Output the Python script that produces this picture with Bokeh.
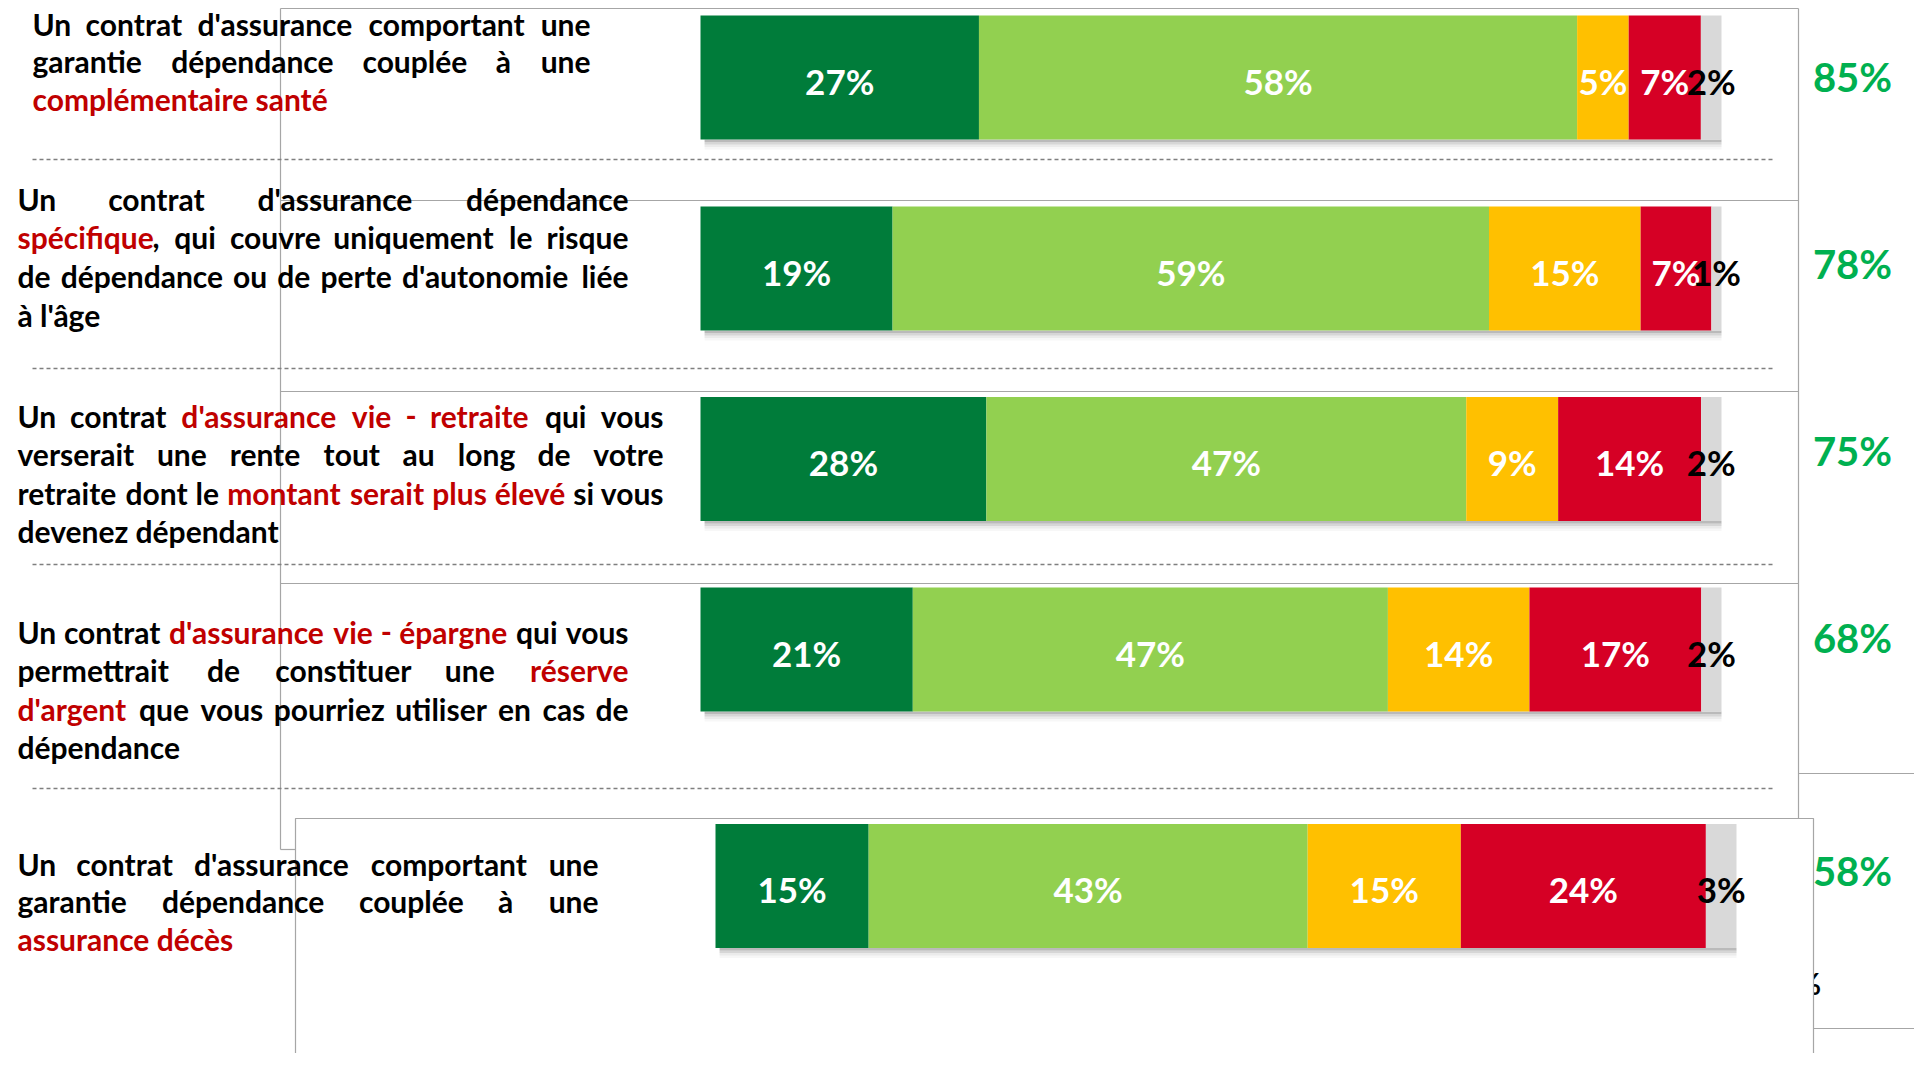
import unicodedata
from bokeh.plotting import figure
from bokeh.models import ColumnDataSource, Range1d
from bokeh.embed import file_html
from bokeh.resources import INLINE
from bokeh.core.properties import value

# ---------------- data ----------------
# Red parts of each label are written between braces.
categories = [
    ["Un contrat d'assurance comportant une",
     "garantie dépendance couplée à une",
     "{complémentaire santé}"],
    ["Un contrat d'assurance dépendance",
     "{spécifique}, qui couvre uniquement le risque",
     "de dépendance ou de perte d'autonomie liée",
     "à l'âge"],
    ["Un contrat {d'assurance vie - retraite} qui vous",
     "verserait une rente tout au long de votre",
     "retraite dont le {montant serait plus élevé} si vous",
     "devenez dépendant"],
    ["Un contrat {d'assurance vie - épargne} qui vous",
     "permettrait de constituer une {réserve}",
     "{d'argent} que vous pourriez utiliser en cas de",
     "dépendance"],
    ["Un contrat d'assurance comportant une",
     "garantie dépendance couplée à une",
     "{assurance décès}"],
]
tres_interesse = [27, 19, 28, 21, 15]
plutot_interesse = [58, 59, 47, 47, 43]
peu_interesse = [5, 15, 9, 14, 15]
pas_interesse = [7, 7, 14, 17, 24]
nsp = [2, 1, 2, 2, 3]
total_interesse = [85, 78, 75, 68, 58]

series = [tres_interesse, plutot_interesse, peu_interesse, pas_interesse, nsp]
series_colors = ["#007C3A", "#92D050", "#FFC000", "#D60025", "#D9D9D9"]
label_colors = ["white", "white", "white", "white", "black"]

# ---------------- layout (reference pixel coordinates) ----------------
X0, X1, Y0, Y1 = 0, 1914, 0, 1053
BAR_W = 1021.0
BAR_H = 124
bar_left = [700, 700, 700, 700, 715]
bar_cy = [77, 268, 458.5, 649, 885.5]
range_names = ["pct", "pct", "pct", "pct", "pct5"]
total_cx = 1852
total_cy = [76, 263, 450, 637, 870]

txt_left = [32, 17, 17, 17, 17]
txt_right = [590, 628, 663, 628, 598]
txt_top = [23, 198, 415, 631, 863]
txt_lh = [37.6, 38.8, 38.6, 38.6, 37.6]
FONT = "Lato"
FS = 30
EM = 31.8   # estimated px per em used for word widths
RED = "#C00000"

p = figure(width=X1 - X0, height=Y1 - Y0,
           x_range=Range1d(X0, X1), y_range=Range1d(Y1, Y0),
           output_backend="svg", toolbar_location=None,
           x_axis_location=None, y_axis_location=None, min_border=0)
p.grid.visible = False
p.outline_line_color = None
p.background_fill_color = "white"
p.border_fill_color = "white"


def pct_range(left):
    return Range1d((X0 - left) / BAR_W * 100, (X1 - left) / BAR_W * 100)


p.extra_x_ranges = {"pct": pct_range(700), "pct5": pct_range(715)}

# ---------------- frame lines of the pasted pictures ----------------
FR = "#A6A6A6"
frame = dict(
    x0=[280, 280, 280, 280, 280, 1798, 280, 1798, 1813],
    y0=[8, 200, 391, 583, 8, 8, 849, 773, 1028],
    x1=[1798, 1798, 1798, 1798, 280, 1798, 295, 1930, 1930],
    y1=[8, 200, 391, 583, 849, 818, 849, 773, 1028],
)
p.segment(x0="x0", y0="y0", x1="x1", y1="y1", source=ColumnDataSource(frame),
          line_color=FR, line_width=1.2)
# cut-off glyph hidden behind the last picture
p.text(x=[1796], y=[982], text=["%"], text_font=value(FONT), text_font_style="bold",
       text_font_size="30px", text_color="black", text_baseline="middle")
# last picture box (white, drawn on top)
p.quad(left=[295], right=[1813], top=[818], bottom=[1075], fill_color="white",
       line_color=FR, line_width=1.2)

# ---------------- dashed separators ----------------
sep_y = [159, 368, 564, 788]
p.segment(x0=[32] * 4, x1=[1773] * 4, y0=sep_y, y1=sep_y,
          line_color="#7F7F7F", line_width=1.6, line_dash="4 3")

# ---------------- bars ----------------
for i in range(5):
    vals = [s[i] for s in series]
    tot = sum(vals)
    shares = [v / tot * 100 for v in vals]
    lefts, rights, acc = [], [], 0.0
    for sh in shares:
        lefts.append(acc)
        acc += sh
        rights.append(acc)
    rn = range_names[i]
    cy = bar_cy[i]
    bottom = cy + BAR_H / 2
    # soft shadow
    for k, a in enumerate([0.42, 0.25, 0.12, 0.05]):
        p.quad(left=[0.4], right=[100.0], top=[bottom + 2.5 * k],
               bottom=[bottom + 2.5 * (k + 1)], fill_color="#5a5a5a",
               fill_alpha=a, line_color=None, x_range_name=rn)
    src = ColumnDataSource(dict(
        left=lefts, right=rights, y=[cy] * 5, ly=[cy + 3] * 5, color=series_colors,
        mid=[(a + b) / 2 for a, b in zip(lefts, rights)],
        lab=["%d%%" % v for v in vals], lc=label_colors))
    p.hbar(y="y", left="left", right="right", height=BAR_H, fill_color="color",
           line_color=None, source=src, x_range_name=rn)
    p.text(x="mid", y="ly", text="lab", text_color="lc", source=src,
           text_align="center", text_baseline="middle", text_font=value(FONT),
           text_font_style="bold", text_font_size="35px", x_range_name=rn)

# ---------------- totals ----------------
p.text(x=[total_cx] * 5, y=total_cy, text=["%d%%" % t for t in total_interesse],
       text_color="#00B050", text_align="center", text_baseline="middle",
       text_font=value(FONT), text_font_style="bold", text_font_size="40px")

# ---------------- justified labels ----------------
CW = {
    'a': .494, 'b': .537, 'c': .418, 'd': .537, 'e': .503, 'f': .318, 'g': .474,
    'h': .537, 'i': .246, 'j': .268, 'k': .479, 'l': .246, 'm': .813, 'n': .537,
    'o': .537, 'p': .537, 'q': .537, 'r': .355, 's': .399, 't': .347, 'u': .537,
    'v': .471, 'w': .752, 'x': .457, 'y': .472, 'z': .395, ' ': .226, 'U': .650,
    "'": .221, '-': .306, ',': .256,
}


def wpx(s):
    tot = 0.0
    for c in s:
        b = unicodedata.normalize("NFD", c)[0]
        tot += CW.get(b, 0.5)
    return tot * EM


def parse(line):
    segs, red, buf = [], False, ""
    for ch in line:
        if ch in "{}":
            if buf:
                segs.append((buf, red))
                buf = ""
            red = ch == "{"
        else:
            buf += ch
    if buf:
        segs.append((buf, red))
    return segs


def split_words(segs):
    words = [[]]
    for t, r in segs:
        parts = t.split(" ")
        for k, part in enumerate(parts):
            if k > 0:
                words.append([])
            if part:
                words[-1].append((part, r))
    return [w for w in words if w]


tx, ty, tt, tc, ta = [], [], [], [], []


def put(x, y, t, red, align):
    tx.append(x); ty.append(y); tt.append(t)
    tc.append(RED if red else "black"); ta.append(align)


for b, lines in enumerate(categories):
    L, R = txt_left[b], txt_right[b]
    for j, line in enumerate(lines):
        y = txt_top[b] + j * txt_lh[b]
        segs = parse(line)
        justified = j < len(lines) - 1
        if not justified:
            x = L
            for t, r in segs:
                put(x, y, t, r, "left")
                x += wpx(t)
            continue
        words = split_words(segs)
        widths = [sum(wpx(t) for t, _ in w) for w in words]
        gap = (R - L - sum(widths)) / (len(words) - 1)
        x = L
        for k, w in enumerate(words):
            if k == len(words) - 1:
                xe = R
                for t, r in reversed(w):
                    put(xe, y, t, r, "right")
                    xe -= wpx(t)
            else:
                xs = x
                for t, r in w:
                    put(xs, y, t, r, "left")
                    xs += wpx(t)
                x += widths[k] + gap

p.text(x="x", y="y", text="t", text_color="c", text_align="a",
       source=ColumnDataSource(dict(x=tx, y=ty, t=tt, c=tc, a=ta)),
       text_baseline="middle", text_font=value(FONT), text_font_style="bold",
       text_font_size="%dpx" % FS)

open("out.html", "w").write(file_html(p, INLINE))
